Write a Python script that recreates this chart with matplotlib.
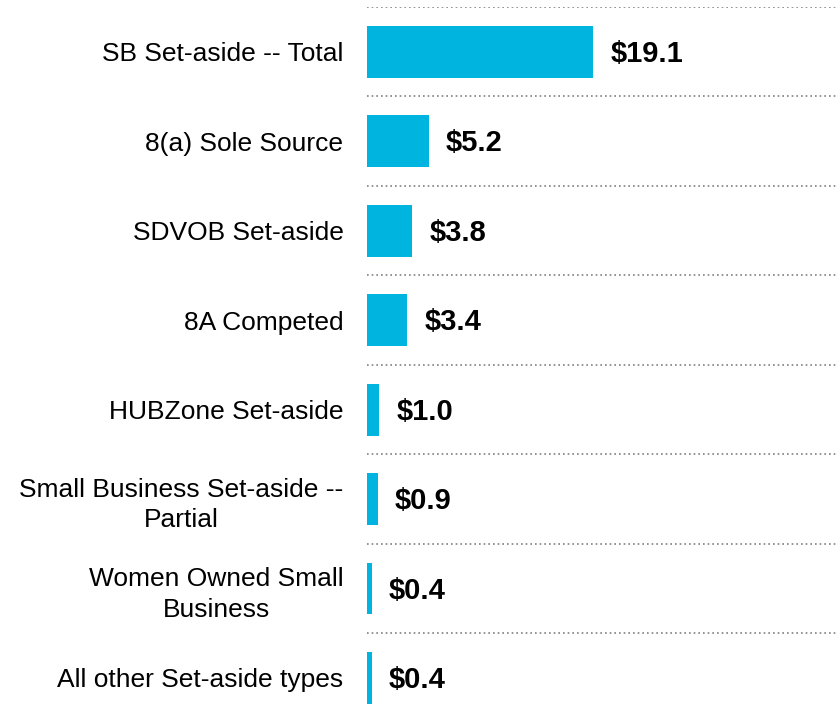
import matplotlib
matplotlib.use('Agg')
from matplotlib import pyplot as plt

categories = ['SB Set-aside -- Total', '8(a) Sole Source', 'SDVOB Set-aside', '8A Competed',
              'HUBZone Set-aside', 'Small Business Set-aside --\nPartial',
              'Women Owned Small\nBusiness', 'All other Set-aside types']
values = [19.1, 5.2, 3.8, 3.4, 1.0, 0.9, 0.4, 0.4]
value_labels = ['$19.1', '$5.2', '$3.8', '$3.4', '$1.0', '$0.9', '$0.4', '$0.4']

plt.rcParams['font.family'] = ['Liberation Sans', 'DejaVu Sans']

fig = plt.figure(figsize=(8.37, 7.2), dpi=100)
ax = fig.add_axes([367/837, 0, 470/837, 713/720])

pos = list(range(len(categories)))
ax.barh(pos, values, height=0.58, color='#00B4E0')

# dotted separators above every category
ax.hlines([p - 0.5 for p in pos], 0, 1, transform=ax.get_yaxis_transform(),
          colors='#808080', linestyles=(0, (1, 1.8)), linewidth=1.2)

for p, v, lab in zip(pos, values, value_labels):
    ax.annotate(lab, (v, p), xytext=(12.5, -1.5), textcoords='offset points',
                ha='left', va='center', fontsize=21, fontweight='bold')

ax.set_xlim(0, 39.7)
ax.set_ylim(7.47, -0.5)
ax.set_yticks(pos)
ax.set_yticklabels(categories, fontsize=19, multialignment='center', linespacing=1.35)
ax.tick_params(axis='y', length=0, pad=17)
ax.set_xticks([])
for s in ax.spines.values():
    s.set_visible(False)

fig.savefig('out.png', dpi=100)
